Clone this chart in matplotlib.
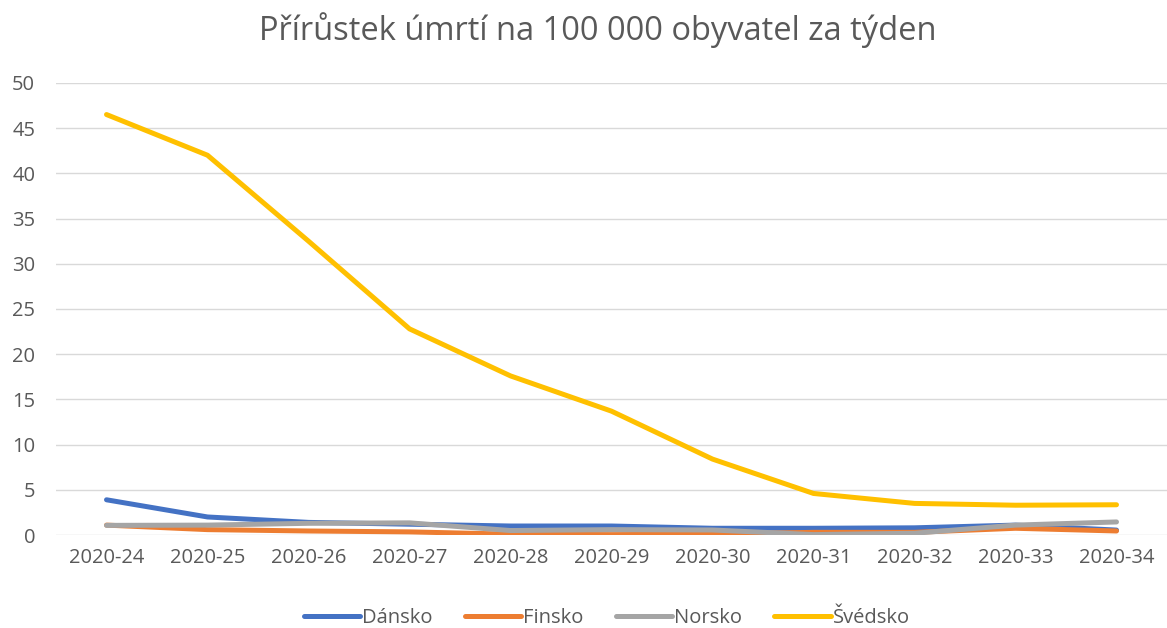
import numpy as np
import matplotlib
matplotlib.use('Agg')
import matplotlib.pyplot as plt

plt.rcParams['font.family'] = ['Open Sans', 'DejaVu Sans']

# Data
weeks = ['2020-24', '2020-25', '2020-26', '2020-27', '2020-28', '2020-29',
         '2020-30', '2020-31', '2020-32', '2020-33', '2020-34']
dansko = [3.9, 2.0, 1.4, 1.2, 1.0, 1.0, 0.75, 0.75, 0.8, 1.1, 0.55]
finsko = [1.1, 0.6, 0.45, 0.35, 0.1, 0.05, 0.1, 0.3, 0.3, 0.75, 0.45]
norsko = [1.07, 1.1, 1.3, 1.35, 0.5, 0.6, 0.56, 0.05, 0.2, 1.1, 1.45]
svedsko = [46.5, 42.0, 32.5, 22.8, 17.6, 13.7, 8.4, 4.6, 3.5, 3.3, 3.35]

series = [('Dánsko', dansko, '#4472C4'),
          ('Finsko', finsko, '#ED7D31'),
          ('Norsko', norsko, '#A5A5A5'),
          ('Švédsko', svedsko, '#FFC000')]

TXT = '#595959'

fig = plt.figure(figsize=(11.67, 6.28), dpi=100)
ax = fig.add_axes([0.048, 0.148, 0.952, 0.72])

x = np.arange(len(weeks))
for name, vals, col in series:
    ax.plot(x, vals, color=col, linewidth=3.6, label=name,
            solid_capstyle='round', solid_joinstyle='round')

ax.set_xlim(-0.5, len(weeks) - 0.5)
ax.set_ylim(0, 50)
ax.set_yticks(range(0, 51, 5))
ax.set_xticks(x)
ax.set_xticklabels(weeks)
ax.grid(axis='y', color='#D9D9D9', linewidth=1)
ax.set_axisbelow(True)
for s in ax.spines.values():
    s.set_visible(False)
ax.tick_params(length=0, labelsize=14.5, colors=TXT, pad=9)
ax.tick_params(axis='y', pad=15)

fig.text(0.512, 0.952, 'Přírůstek úmrtí na 100 000 obyvatel za týden',
         fontsize=23.5, color=TXT, ha='center', va='center')

fig.legend(loc='center', bbox_to_anchor=(0.52, 0.016), ncol=4,
           frameon=False, fontsize=14.5, labelcolor=TXT, handlelength=2.8,
           handletextpad=0.1, columnspacing=1.6)

fig.savefig('out.png', dpi=100)
